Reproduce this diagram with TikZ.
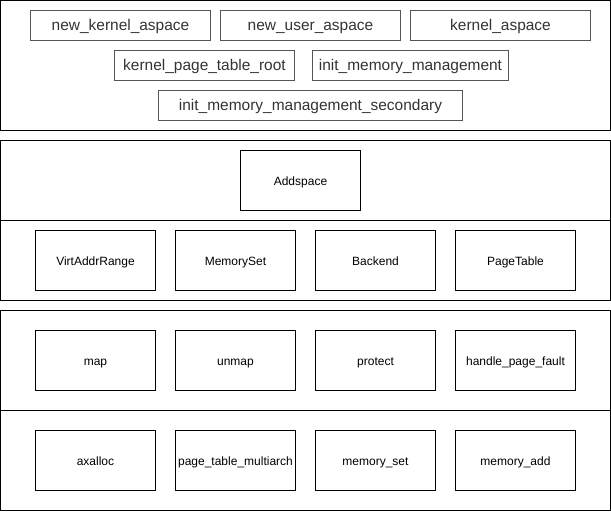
\documentclass[tikz,border=0pt]{standalone}
\usepackage{fontspec}
\setmainfont{Liberation Sans}
\usepackage{tikz}
\usetikzlibrary{positioning}
\definecolor{apigray}{HTML}{333333}
\definecolor{apiline}{HTML}{555555}
\tikzset{
  layerbox/.style={
    draw=black,
    line width=0.75pt
  },
  apinode/.style={
    draw=apiline,
    text=apigray,
    line width=0.75pt,
    minimum height=22.5pt,
    inner sep=1pt,
    text height=0.88em,
    text depth=0.08em,
    font=\fontsize{11.6}{13}\selectfont
  },
  modnode/.style={
    draw=black,
    line width=0.75pt,
    minimum width=90pt,
    minimum height=45pt,
    inner sep=1pt,
    text height=0.88em,
    text depth=0.08em,
    font=\fontsize{9}{11}\selectfont
  }
}

\begin{document}
\begin{tikzpicture}[x=0.75pt,y=-0.75pt]
    \useasboundingbox (0,0) rectangle (611,512);

    % layers
    \draw[layerbox] (0.5,0.5) rectangle (610.5,130.5);
    \draw[layerbox] (0.5,140.5) rectangle (610.5,300.5);
    \draw[layerbox] (0.5,220.5) -- (610.5,220.5);
    \draw[layerbox] (0.5,310.5) rectangle (610.5,510.5);
    \draw[layerbox] (0.5,410.5) -- (610.5,410.5);

    % public api
    \node[apinode,minimum width=135pt] (newkernel) at (120.5,25.5) {new\_kernel\_aspace};
    \node[apinode,minimum width=135pt] (newuser) at (310.5,25.5) {new\_user\_aspace};
    \node[apinode,minimum width=135pt] (kernelas) at (500.5,25.5) {kernel\_aspace};
    \node[apinode,minimum width=135pt] (ptroot) at (204.5,65.5) {kernel\_page\_table\_root};
    \node[apinode,minimum width=147pt] (initmm) at (410.5,65.5) {init\_memory\_management};
    \node[apinode,minimum width=228pt] (initmmsec) at (310.5,105.5) {init\_memory\_management\_secondary};

    % address space
    \node[modnode] (addspace) at (300.5,180.5) {Addspace};
    \node[modnode] (virtrange) at (95.5,260.5) {VirtAddrRange};
    \node[modnode] (memset) at (235.5,260.5) {MemorySet};
    \node[modnode] (backend) at (375.5,260.5) {Backend};
    \node[modnode] (pagetable) at (515.5,260.5) {PageTable};

    % operations
    \node[modnode] (map) at (95.5,360.5) {map};
    \node[modnode] (unmap) at (235.5,360.5) {unmap};
    \node[modnode] (protect) at (375.5,360.5) {protect};
    \node[modnode] (fault) at (515.5,360.5) {handle\_page\_fault};

    % dependencies
    \node[modnode] (axalloc) at (95.5,460.5) {axalloc};
    \node[modnode] (ptmulti) at (235.5,460.5) {page\_table\_multiarch};
    \node[modnode] (memsetcrate) at (375.5,460.5) {memory\_set};
    \node[modnode] (memaddr) at (515.5,460.5) {memory\_add};
\end{tikzpicture}
\end{document}
